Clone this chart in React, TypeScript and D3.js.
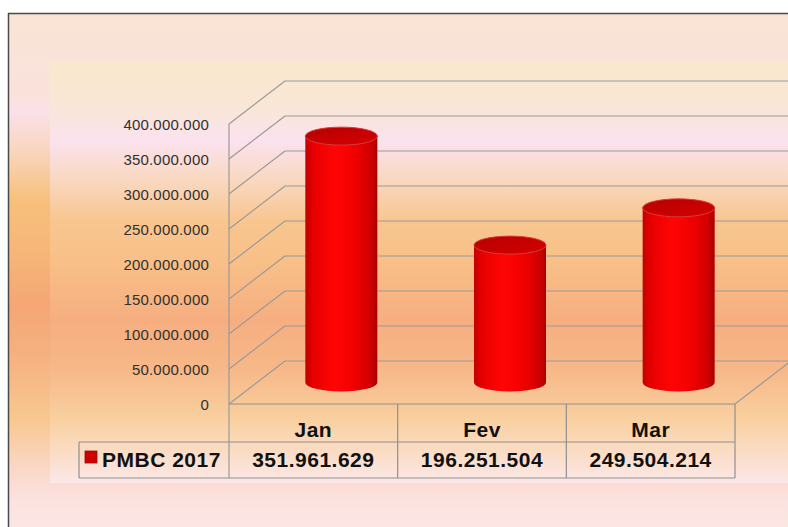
import React from "react";
import * as d3 from "d3";

const categories = ["Jan", "Fev", "Mar"];
const seriesName = "PMBC 2017";
const values = [351961629, 196251504, 249504214];
const yTicks = [0, 50000000, 100000000, 150000000, 200000000, 250000000, 300000000, 350000000, 400000000];

const W = 788;
const H = 527;

const locale = d3.formatLocale({ decimal: ",", thousands: ".", grouping: [3], currency: ["R$", ""] });
const fmt = locale.format(",d");

export default function App() {
  const frontLeft = 229;
  const frontRight = 735;
  const depthX = 56;
  const depthY = -43;
  const y = d3.scaleLinear().domain([0, 400000000]).range([404, 124]);
  const x = d3.scaleBand<string>().domain(categories).range([frontLeft, frontRight]).padding(0);
  const bw = x.bandwidth();
  const cylW = bw * 0.427;
  const rx = cylW / 2;
  const ry = 9;
  const midX = depthX / 2;
  const midY = depthY / 2;

  const tableTop = 404;
  const rowMid = 442;
  const tableBottom = 478;
  const legendLeft = 79;

  const grid = "#9a9a9a";
  const tbl = "#8f8f8f";
  const font = "'Liberation Sans', Arial, sans-serif";

  return (
    <svg width={W} height={H} style={{ position: "absolute", left: 0, top: 0, display: "block" }}>
      <defs>
        <linearGradient id="outerBg" gradientUnits="userSpaceOnUse" x1="0" y1="13" x2="0" y2="527">
          <stop offset={(13 - 13) / 514} stopColor="#f9e4d4" />
          <stop offset={(95 - 13) / 514} stopColor="#fae2dc" />
          <stop offset={(112 - 13) / 514} stopColor="#fbe0e8" />
          <stop offset={(150 - 13) / 514} stopColor="#f9d6c0" />
          <stop offset={(200 - 13) / 514} stopColor="#f7c07c" />
          <stop offset={(260 - 13) / 514} stopColor="#f6b478" />
          <stop offset={(305 - 13) / 514} stopColor="#f5a674" />
          <stop offset={(360 - 13) / 514} stopColor="#f6b282" />
          <stop offset={(420 - 13) / 514} stopColor="#f8c890" />
          <stop offset={(470 - 13) / 514} stopColor="#fad8c8" />
          <stop offset={(500 - 13) / 514} stopColor="#fbe2e0" />
          <stop offset={1} stopColor="#fbe6e2" />
        </linearGradient>
        <linearGradient id="innerBg" gradientUnits="userSpaceOnUse" x1="0" y1="62" x2="0" y2="483">
          <stop offset={0} stopColor="#f9e8cc" />
          <stop offset={(110 - 62) / 421} stopColor="#f9e6d8" />
          <stop offset={(140 - 62) / 421} stopColor="#fbe2ee" />
          <stop offset={(180 - 62) / 421} stopColor="#f9d8c0" />
          <stop offset={(220 - 62) / 421} stopColor="#f8c690" />
          <stop offset={(260 - 62) / 421} stopColor="#f8c088" />
          <stop offset={(320 - 62) / 421} stopColor="#f6ae80" />
          <stop offset={(370 - 62) / 421} stopColor="#f7b888" />
          <stop offset={(420 - 62) / 421} stopColor="#f9d0a0" />
          <stop offset={1} stopColor="#fce8e8" />
        </linearGradient>
        <linearGradient id="cylBody" x1="0" y1="0" x2="1" y2="0">
          <stop offset="0" stopColor="#c40000" />
          <stop offset="0.12" stopColor="#e80000" />
          <stop offset="0.4" stopColor="#ff0505" />
          <stop offset="0.7" stopColor="#f00000" />
          <stop offset="0.92" stopColor="#cc0000" />
          <stop offset="1" stopColor="#a80000" />
        </linearGradient>
        <linearGradient id="cylTop" x1="0" y1="0" x2="1" y2="1">
          <stop offset="0" stopColor="#b80000" />
          <stop offset="1" stopColor="#d40000" />
        </linearGradient>
      </defs>

      <rect x={0} y={0} width={W} height={H} fill="#ffffff" />
      <rect x={8} y={13} width={W} height={H} fill="url(#outerBg)" />
      <line x1={8} y1={13.5} x2={W} y2={13.5} stroke="#4a4a4a" strokeWidth={1.5} />
      <line x1={8.5} y1={13} x2={8.5} y2={H} stroke="#4a4a4a" strokeWidth={1.5} />
      <rect x={50} y={62} width={W - 50} height={421} fill="url(#innerBg)" />

      {yTicks.map((t) => (
        <g key={t}>
          <line x1={frontLeft} y1={y(t)} x2={frontLeft + depthX} y2={y(t) + depthY} stroke={grid} strokeWidth={1.2} />
          <line x1={frontLeft + depthX} y1={y(t) + depthY} x2={frontRight + depthX} y2={y(t) + depthY} stroke={grid} strokeWidth={1.2} />
          <text
            x={209}
            y={y(t) + 6}
            textAnchor="end"
            fontFamily={font}
            fontSize={15}
            letterSpacing={0.2}
            fill="#303030"
          >
            {fmt(t)}
          </text>
        </g>
      ))}
      <line x1={frontLeft} y1={y(400000000)} x2={frontLeft} y2={tableBottom} stroke={grid} strokeWidth={1.2} />
      <line x1={frontRight} y1={y(0)} x2={frontRight + depthX} y2={y(0) + depthY} stroke={grid} strokeWidth={1.2} />

      {categories.map((c, i) => {
        const cx = (x(c) as number) + bw / 2 + midX;
        const yb = y(0) + midY;
        const yt = y(values[i]) + midY;
        const l = cx - rx;
        const r = cx + rx;
        const body = `M${l},${yt} L${l},${yb} A${rx},${ry} 0 0 0 ${r},${yb} L${r},${yt} Z`;
        return (
          <g key={c}>
            <path d={body} fill="url(#cylBody)" />
            <ellipse cx={cx} cy={yt} rx={rx} ry={ry} fill="url(#cylTop)" stroke="#d83a3a" strokeWidth={1} />
          </g>
        );
      })}

      <line x1={frontLeft} y1={tableTop} x2={frontRight} y2={tableTop} stroke={tbl} strokeWidth={1.2} />
      <line x1={legendLeft} y1={rowMid} x2={frontRight} y2={rowMid} stroke={tbl} strokeWidth={1.2} />
      <line x1={legendLeft} y1={tableBottom} x2={frontRight} y2={tableBottom} stroke={tbl} strokeWidth={1.2} />
      <line x1={legendLeft} y1={rowMid} x2={legendLeft} y2={tableBottom} stroke={tbl} strokeWidth={1.2} />
      {categories.map((c) => (
        <line key={c} x1={(x(c) as number) + bw} y1={tableTop} x2={(x(c) as number) + bw} y2={tableBottom} stroke={tbl} strokeWidth={1.2} />
      ))}
      {categories.map((c, i) => (
        <g key={c}>
          <text x={(x(c) as number) + bw / 2} y={437} textAnchor="middle" fontFamily={font} fontWeight="bold" fontSize={21} letterSpacing={0.5} fill="#111">
            {c}
          </text>
          <text x={(x(c) as number) + bw / 2} y={467} textAnchor="middle" fontFamily={font} fontWeight="bold" fontSize={21} letterSpacing={0.5} fill="#111">
            {fmt(values[i])}
          </text>
        </g>
      ))}
      <rect x={85} y={451} width={12} height={12} fill="#d00000" stroke="#8a1010" strokeWidth={0.8} />
      <text x={102} y={467} fontFamily={font} fontWeight="bold" fontSize={21} letterSpacing={0.5} fill="#111">
        {seriesName}
      </text>
    </svg>
  );
}
